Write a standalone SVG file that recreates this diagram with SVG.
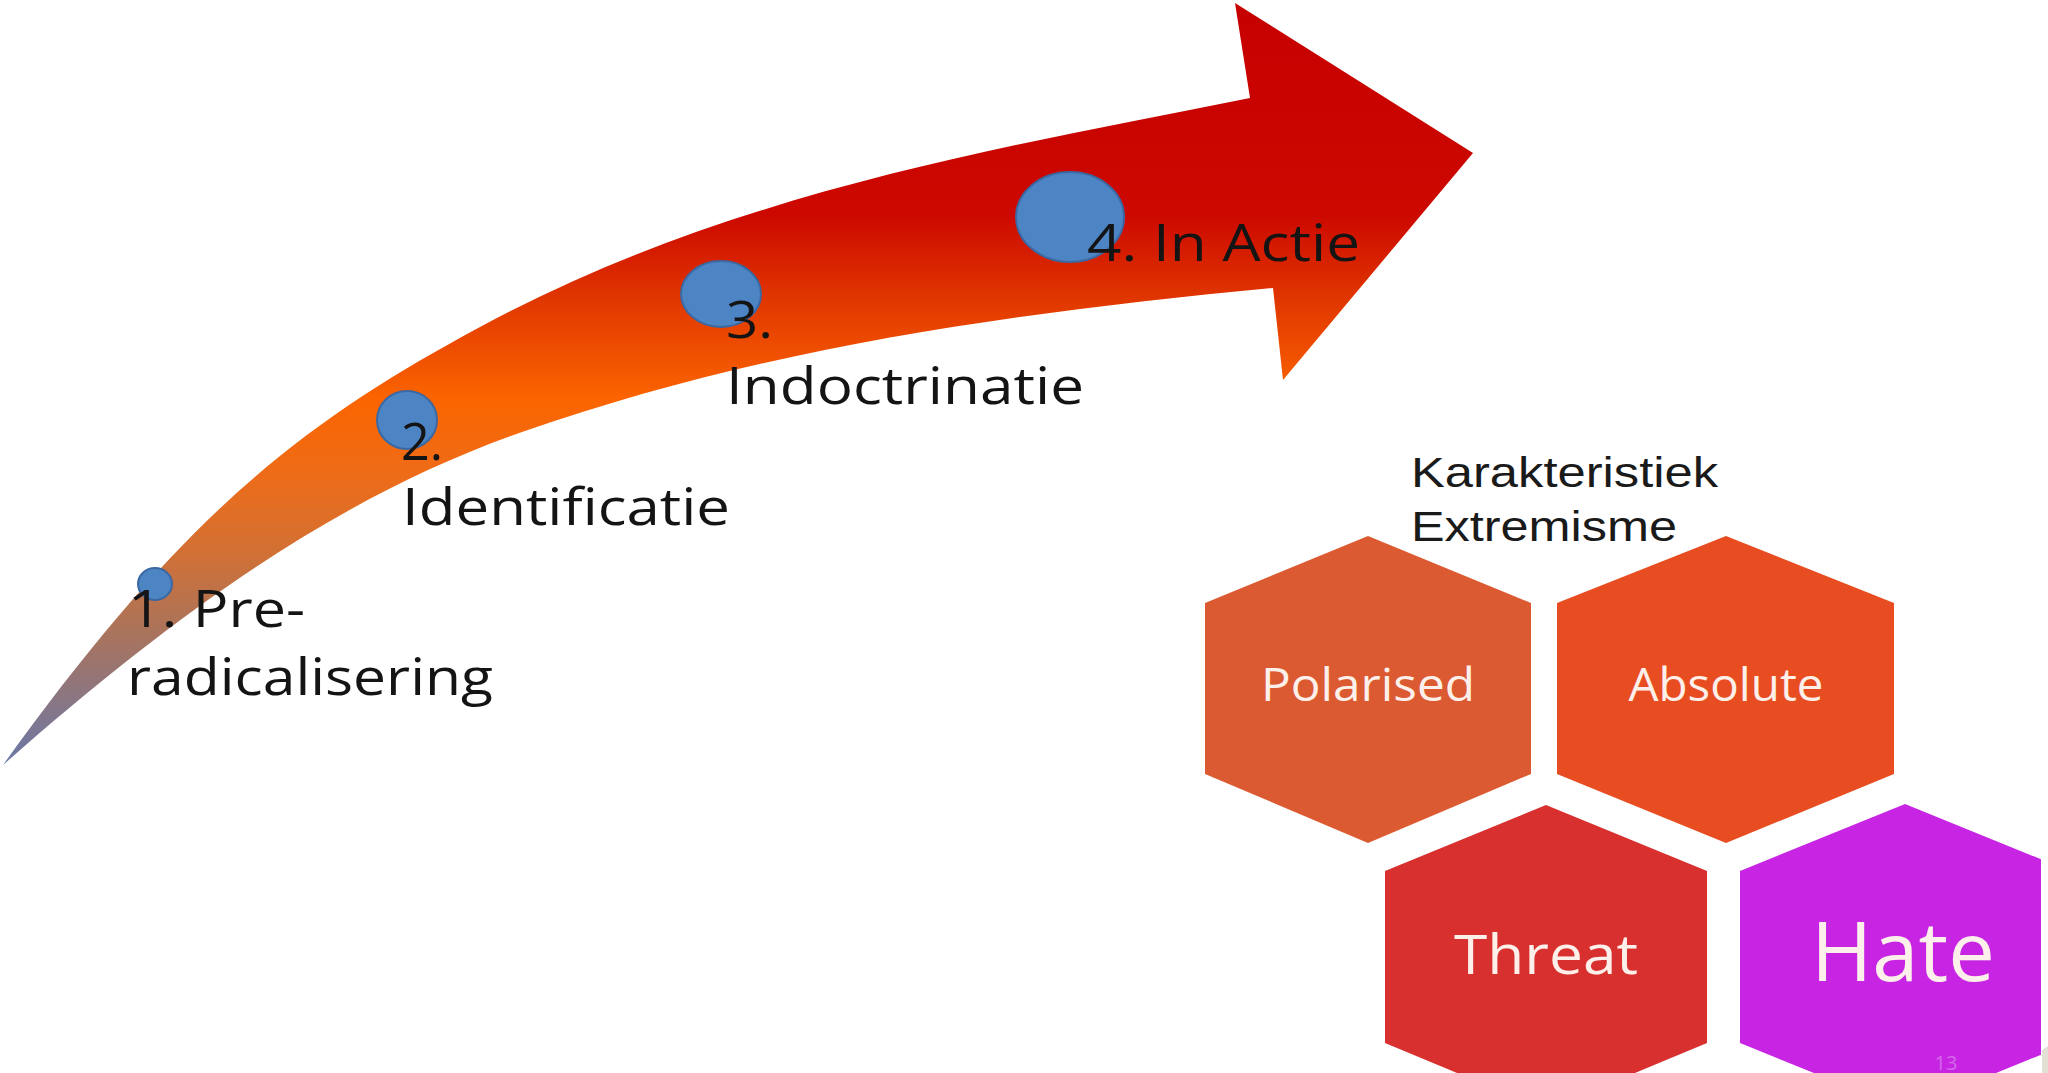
<svg xmlns="http://www.w3.org/2000/svg" width="2048" height="1073" viewBox="0 0 2048 1073">
  <defs>
    <linearGradient id="arrowGrad" gradientUnits="userSpaceOnUse" x1="0" y1="0" x2="0" y2="765">
      <stop offset="0" stop-color="#c60000"/>
      <stop offset="0.28" stop-color="#cc0800"/>
      <stop offset="0.40" stop-color="#e23a00"/>
      <stop offset="0.52" stop-color="#fb6400"/>
      <stop offset="0.62" stop-color="#ee6c18"/>
      <stop offset="0.72" stop-color="#d27034"/>
      <stop offset="0.84" stop-color="#a57462"/>
      <stop offset="1" stop-color="#6b78a8"/>
    </linearGradient>
    <clipPath id="pageClip">
      <rect x="0" y="0" width="2041" height="1073"/>
    </clipPath>
  </defs>
  <style>
    .dot { fill: #4c84c4; stroke: #3b68a2; stroke-width: 2; }
    .step { font-family: "Open Sans", "Noto Sans", sans-serif; font-size: 52px; fill: #141414; }
    .title { font-family: "Liberation Sans", Arial, sans-serif; font-size: 42px; fill: #1a1a1a; }
    .hexlabel { font-family: "Open Sans", "Noto Sans", sans-serif; fill: #fdf0ea; text-anchor: middle; }
  </style>

  <rect x="0" y="0" width="2048" height="1073" fill="#ffffff"/>

  <g id="arrow">
    <path fill="url(#arrowGrad)" d="M 3,765
      C 183,515 300,424 480,327
      C 730,192 1000,148 1250,98
      L 1235,3 L 1473,153 L 1283,380 L 1273,288
      C 1023,312 772,344.5 522,432
      C 352,491.5 193,597 3,765 Z"/>
  </g>

  <g id="connectors"></g>

  <g id="stage1">
    <ellipse class="dot" cx="155" cy="584" rx="17" ry="16"/>
    <text class="step" x="128" y="627" textLength="177" lengthAdjust="spacingAndGlyphs">1. Pre-</text>
    <text class="step" x="127" y="695" textLength="366" lengthAdjust="spacingAndGlyphs">radicalisering</text>
  </g>

  <g id="stage2">
    <ellipse class="dot" cx="407" cy="420" rx="30" ry="29"/>
    <text class="step" x="401" y="460" textLength="42" lengthAdjust="spacingAndGlyphs">2.</text>
    <text class="step" x="402" y="525" textLength="328" lengthAdjust="spacingAndGlyphs">Identificatie</text>
  </g>

  <g id="stage3">
    <ellipse class="dot" cx="721" cy="294" rx="40" ry="33"/>
    <text class="step" x="726" y="338" textLength="47" lengthAdjust="spacingAndGlyphs">3.</text>
    <text class="step" x="726" y="404" textLength="358" lengthAdjust="spacingAndGlyphs">Indoctrinatie</text>
  </g>

  <g id="stage4">
    <ellipse class="dot" cx="1070" cy="217" rx="54" ry="45"/>
    <text class="step" x="1087" y="261" textLength="273" lengthAdjust="spacingAndGlyphs">4. In Actie</text>
  </g>

  <g id="title">
    <text class="title" x="1411" y="487" textLength="307" lengthAdjust="spacingAndGlyphs">Karakteristiek</text>
    <text class="title" x="1411" y="541" textLength="266" lengthAdjust="spacingAndGlyphs">Extremisme</text>
  </g>

  <g id="hex-polarised">
    <polygon fill="#dc5a31" points="1368,536 1531,603 1531,774 1368,843 1205,774 1205,603"/>
    <text class="hexlabel" x="1368" y="701" font-size="45" textLength="214" lengthAdjust="spacingAndGlyphs">Polarised</text>
  </g>

  <g id="hex-absolute">
    <polygon fill="#e84d21" points="1726,536 1894,603 1894,774 1726,843 1557,774 1557,603"/>
    <text class="hexlabel" x="1726" y="701" font-size="45" textLength="195" lengthAdjust="spacingAndGlyphs">Absolute</text>
  </g>

  <g id="hex-threat">
    <polygon fill="#d82f2f" points="1546,805 1707,871 1707,1043 1546,1110 1385,1043 1385,871"/>
    <text class="hexlabel" x="1546" y="974" font-size="55" textLength="184" lengthAdjust="spacingAndGlyphs">Threat</text>
  </g>

  <g id="hex-hate" clip-path="url(#pageClip)">
    <polygon fill="#c724e3" points="1905,804 2070,871 2070,1043 1905,1110 1740,1043 1740,871"/>
    <text class="hexlabel" x="1903" y="981" font-size="82" textLength="184" lengthAdjust="spacingAndGlyphs">Hate</text>
    <text x="1946" y="1070" font-family="Open Sans, sans-serif" font-size="20" fill="#d469e8" text-anchor="middle">13</text>
  </g>

  <polygon fill="#e2dfd4" points="2042,1050 2048,1046 2048,1073 2042,1073"/>
</svg>
